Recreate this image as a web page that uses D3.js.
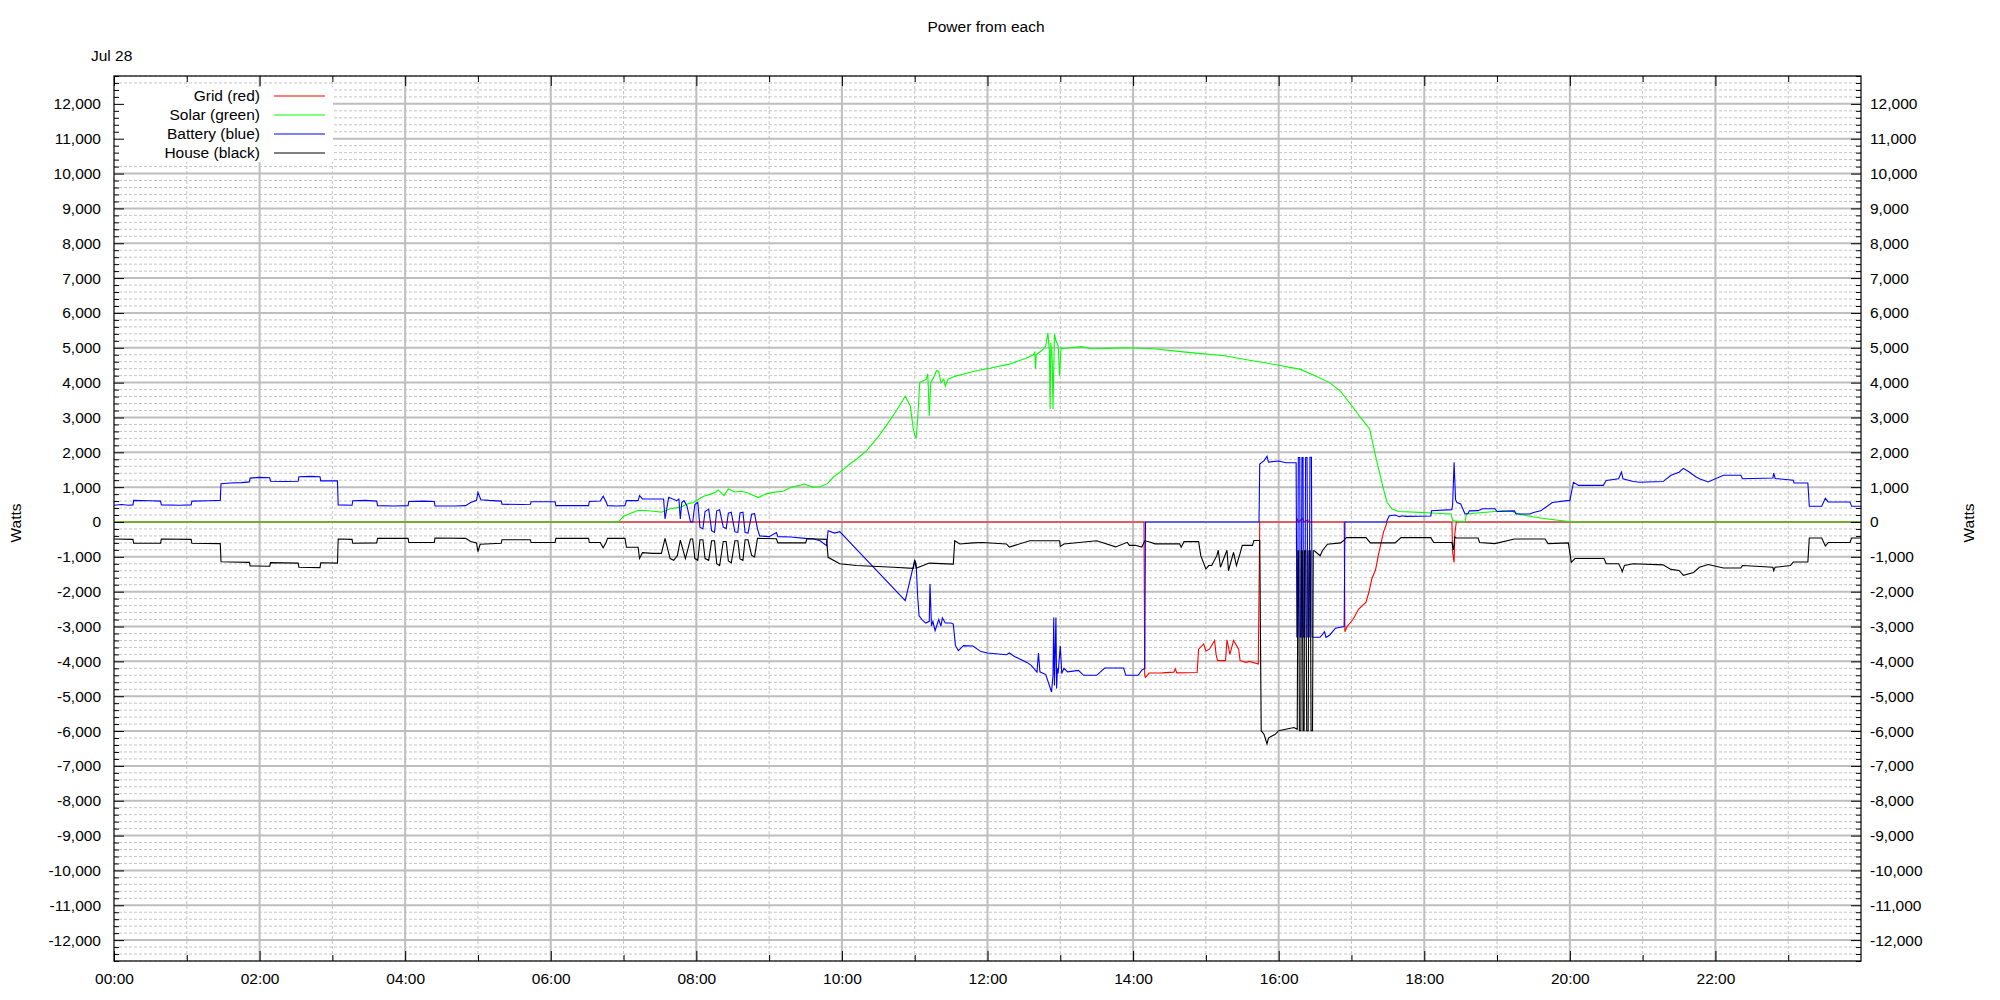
<!DOCTYPE html>
<html><head><meta charset="utf-8">
<script src="https://cdn.jsdelivr.net/npm/d3@7"></script>
<style>
body{margin:0;background:#fff}
svg{display:block}
text{font-family:"Liberation Sans",Arial,sans-serif;font-size:15.5px;fill:#000}
</style>
</head><body>
<svg id="chart" width="2000" height="1000"></svg>
<script>
// ---------- labels ----------
const chartTitle = "Power from each";
const dateLabel = "Jul 28";
const yAxisLabel = "Watts";
const seriesNames = ["Grid (red)", "Solar (green)", "Battery (blue)", "House (black)"];
const seriesColors = ["#ff0000", "#00ff00", "#0000ff", "#000000"];
const xMajorTicks = [0, 2, 4, 6, 8, 10, 12, 14, 16, 18, 20, 22];
const xMinorTicks = [1, 3, 5, 7, 9, 11, 13, 15, 17, 19, 21, 23];
const yMajorTicks = d3.range(-12000, 12001, 1000);

// ---------- data: [hour of day, watts] ----------
const gridPoints = [[0,0],[7.0,0],[8.9,0],[14.15,0],[14.16,-4410],[14.17,-4460],[14.22,-4335],[14.4,-4330],[14.56,-4310],[14.58,-4210],[14.6,-4330],[14.88,-4320],[14.9,-3650],[14.97,-3500],[15.0,-3700],[15.05,-3650],[15.12,-3400],[15.14,-3800],[15.16,-3980],[15.27,-3980],[15.29,-3380],[15.33,-3800],[15.38,-3400],[15.45,-3650],[15.47,-3980],[15.55,-4030],[15.6,-4000],[15.72,-4075],[15.74,0],[16.24,0],[16.26,80],[16.27,0],[16.33,100],[16.35,0],[16.40,60],[16.41,0],[16.90,0],[16.91,-3150],[16.94,-3000],[17.02,-2800],[17.1,-2500],[17.2,-2300],[17.24,-2010],[17.28,-1630],[17.33,-1380],[17.37,-950],[17.44,-290],[17.49,0],[18.38,0],[18.39,-870],[18.41,-1160],[18.42,-340],[18.44,0],[24,0]];

const solarPoints = [[0,0],[6.93,0],[7.0,163],[7.1,250],[7.2,335],[7.3,330],[7.45,300],[7.52,280],[7.64,380],[7.78,420],[7.89,527],[7.96,560],[8.1,737],[8.2,800],[8.26,852],[8.3,920],[8.38,756],[8.44,947],[8.53,860],[8.62,880],[8.71,830],[8.85,700],[8.95,800],[9.05,850],[9.19,880],[9.3,995],[9.42,1050],[9.48,1090],[9.6,1000],[9.7,1010],[9.8,1100],[9.88,1283],[10.0,1475],[10.1,1650],[10.2,1800],[10.34,2047],[10.5,2450],[10.61,2765],[10.75,3200],[10.87,3608],[10.94,3330],[10.98,2670],[11.0,2500],[11.02,2402],[11.04,2950],[11.07,4010],[11.12,4050],[11.16,4100],[11.18,4250],[11.2,3050],[11.22,4000],[11.26,4150],[11.3,4350],[11.33,4320],[11.36,4000],[11.4,4100],[11.42,3900],[11.46,4100],[11.55,4180],[11.66,4240],[11.85,4340],[12.03,4410],[12.3,4530],[12.53,4700],[12.63,4800],[12.65,4870],[12.66,4400],[12.67,4800],[12.76,4950],[12.8,5050],[12.83,5427],[12.85,4900],[12.86,3244],[12.87,5150],[12.89,4600],[12.9,3244],[12.92,5400],[12.94,5200],[12.97,5070],[12.99,4200],[13.01,5000],[13.04,4980],[13.29,5033],[13.43,4970],[13.77,4990],[13.88,5000],[14.29,4970],[14.56,4910],[14.79,4860],[15.26,4770],[15.5,4680],[16.0,4500],[16.3,4380],[16.5,4200],[16.7,4000],[16.85,3750],[17.0,3350],[17.14,2957],[17.25,2670],[17.28,2383],[17.34,1809],[17.39,1378],[17.44,943],[17.49,560],[17.56,370],[17.65,300],[17.94,277],[18.1,258],[18.37,230],[18.39,38],[18.43,29],[18.56,0],[18.58,230],[18.97,300],[19.08,320],[19.2,316],[19.3,225],[19.49,150],[19.62,105],[19.81,57],[20.05,0],[24,0]];

const batteryPoints = [[0,480],[0.1,500],[0.2,480],[0.26,490],[0.27,620],[0.5,610],[0.64,600],[0.65,490],[0.9,480],[1.06,490],[1.07,600],[1.3,610],[1.46,620],[1.47,1100],[1.6,1120],[1.75,1130],[1.86,1150],[1.87,1260],[2.0,1280],[2.14,1270],[2.15,1170],[2.35,1160],[2.53,1170],[2.54,1300],[2.7,1310],[2.83,1300],[2.84,1180],[3.07,1180],[3.08,490],[3.27,480],[3.28,610],[3.45,620],[3.61,600],[3.62,470],[3.85,460],[4.04,470],[4.05,590],[4.25,600],[4.4,590],[4.41,460],[4.7,460],[4.83,470],[4.9,560],[4.98,620],[5.0,850],[5.04,640],[5.15,620],[5.32,600],[5.33,510],[5.6,500],[5.72,510],[5.73,580],[6.06,580],[6.07,470],[6.52,470],[6.53,590],[6.68,600],[6.72,740],[6.76,580],[6.78,470],[6.9,460],[7.02,470],[7.04,612],[7.2,612],[7.22,755],[7.26,660],[7.5,660],[7.55,660],[7.57,86],[7.62,708],[7.73,612],[7.76,660],[7.78,86],[7.8,560],[7.83,612],[7.87,470],[7.92,0],[7.95,0],[7.98,500],[8.02,565],[8.05,-150],[8.09,-200],[8.12,300],[8.17,370],[8.21,-250],[8.25,-300],[8.28,320],[8.32,350],[8.37,-150],[8.41,-190],[8.44,250],[8.48,280],[8.53,-280],[8.57,-300],[8.60,260],[8.64,280],[8.67,-300],[8.71,-320],[8.76,220],[8.80,240],[8.84,-200],[8.87,-400],[9.0,-420],[9.1,-300],[9.12,-420],[9.3,-430],[9.5,-470],[9.6,-480],[9.7,-540],[9.79,-680],[9.81,-250],[9.9,-320],[9.97,-280],[10.87,-2260],[11.0,-1100],[11.02,-1200],[11.04,-2115],[11.06,-2690],[11.1,-2800],[11.15,-2900],[11.2,-2850],[11.21,-1780],[11.23,-2980],[11.25,-2850],[11.28,-3120],[11.33,-2800],[11.36,-2990],[11.38,-2750],[11.42,-2900],[11.5,-2900],[11.53,-2930],[11.56,-3550],[11.6,-3690],[11.67,-3550],[11.8,-3560],[11.91,-3720],[12.0,-3760],[12.26,-3810],[12.3,-3760],[12.37,-3860],[12.54,-4030],[12.6,-4115],[12.68,-4310],[12.7,-3760],[12.72,-4300],[12.8,-4380],[12.88,-4880],[12.9,-4400],[12.91,-2740],[12.92,-4690],[12.94,-2740],[12.95,-4780],[12.96,-4200],[12.97,-4350],[13.0,-3550],[13.02,-4350],[13.05,-4200],[13.1,-4300],[13.25,-4260],[13.32,-4400],[13.5,-4400],[13.61,-4190],[13.87,-4190],[13.9,-4400],[14.07,-4400],[14.12,-4250],[14.16,-4200],[14.17,0],[15.73,0],[15.74,1665],[15.8,1760],[15.84,1886],[15.86,1720],[16.0,1750],[16.1,1700],[16.22,1700],[16.24,1700],[16.25,-3300],[16.26,-3300],[16.27,1850],[16.29,1850],[16.295,-3300],[16.31,-3300],[16.32,1850],[16.335,1850],[16.34,-3300],[16.36,-3300],[16.37,1850],[16.39,1850],[16.40,-3300],[16.42,-3300],[16.43,1860],[16.45,1860],[16.46,-3300],[16.48,-3310],[16.57,-3310],[16.63,-3150],[16.65,-3310],[16.7,-3250],[16.78,-3050],[16.85,-3020],[16.90,-3000],[16.91,0],[17.48,0],[17.5,90],[17.52,180],[17.6,200],[17.66,150],[17.7,180],[17.75,160],[18.09,170],[18.1,325],[18.38,354],[18.39,500],[18.41,1713],[18.43,640],[18.45,560],[18.5,520],[18.56,230],[18.6,240],[18.62,320],[18.74,325],[18.8,380],[18.97,380],[19.0,300],[19.24,320],[19.26,230],[19.45,230],[19.5,270],[19.6,320],[19.76,560],[19.96,612],[20.0,612],[20.05,1140],[20.12,1050],[20.46,1050],[20.5,1190],[20.67,1240],[20.71,1435],[20.73,1240],[20.87,1160],[20.96,1140],[21.28,1160],[21.39,1340],[21.5,1430],[21.56,1540],[21.63,1450],[21.73,1300],[21.78,1240],[21.9,1150],[22.11,1340],[22.35,1340],[22.37,1240],[22.79,1260],[22.8,1400],[22.82,1250],[23.07,1200],[23.08,1120],[23.27,1120],[23.29,450],[23.46,450],[23.51,680],[23.55,575],[23.85,575],[23.87,450],[24,450]];

const housePoints = [[0,-490],[0.26,-500],[0.27,-612],[0.64,-610],[0.65,-490],[1.06,-500],[1.07,-612],[1.46,-620],[1.47,-1140],[1.6,-1150],[1.86,-1160],[1.87,-1263],[2.14,-1270],[2.15,-1167],[2.53,-1180],[2.54,-1300],[2.83,-1310],[2.84,-1170],[3.07,-1180],[3.08,-490],[3.27,-500],[3.28,-610],[3.61,-600],[3.62,-470],[4.04,-470],[4.05,-590],[4.4,-590],[4.41,-460],[4.83,-470],[4.9,-560],[4.98,-600],[5.0,-852],[5.03,-640],[5.32,-610],[5.33,-510],[5.72,-510],[5.73,-590],[6.06,-590],[6.07,-470],[6.52,-470],[6.53,-590],[6.68,-590],[6.72,-740],[6.76,-590],[6.78,-470],[7.02,-470],[7.04,-727],[7.2,-727],[7.22,-1048],[7.26,-880],[7.4,-900],[7.52,-900],[7.57,-470],[7.64,-1050],[7.69,-1100],[7.74,-960],[7.78,-520],[7.85,-1050],[7.92,-490],[7.95,-490],[7.98,-1050],[8.02,-1100],[8.05,-510],[8.09,-510],[8.12,-1050],[8.17,-1100],[8.21,-540],[8.25,-540],[8.28,-1200],[8.32,-1250],[8.37,-560],[8.41,-560],[8.44,-1120],[8.48,-1170],[8.53,-540],[8.57,-540],[8.60,-1060],[8.64,-1100],[8.67,-510],[8.71,-510],[8.76,-960],[8.80,-1000],[8.84,-470],[9.1,-480],[9.12,-600],[9.5,-600],[9.52,-480],[9.79,-500],[9.81,-1014],[9.97,-1200],[10.2,-1250],[10.71,-1300],[10.98,-1330],[11.0,-1100],[11.02,-1330],[11.2,-1180],[11.53,-1210],[11.55,-540],[11.62,-630],[11.8,-600],[11.93,-590],[12.26,-630],[12.3,-720],[12.58,-540],[12.99,-540],[13.0,-700],[13.05,-630],[13.5,-540],[13.76,-715],[13.92,-584],[13.95,-670],[14.03,-670],[14.12,-720],[14.16,-540],[14.24,-584],[14.3,-627],[14.64,-627],[14.66,-725],[14.7,-565],[14.9,-565],[14.93,-966],[15.0,-1350],[15.04,-1250],[15.08,-1250],[15.15,-966],[15.17,-810],[15.2,-1300],[15.29,-810],[15.31,-1400],[15.38,-870],[15.42,-1250],[15.47,-900],[15.5,-670],[15.64,-670],[15.66,-530],[15.74,-530],[15.76,-5990],[15.8,-6100],[15.84,-6370],[15.86,-6200],[15.9,-6150],[15.95,-6100],[16.0,-5990],[16.21,-5900],[16.255,-5950],[16.265,-825],[16.275,-825],[16.285,-5990],[16.305,-5990],[16.31,-825],[16.325,-825],[16.335,-5990],[16.35,-5990],[16.355,-825],[16.375,-825],[16.385,-5990],[16.405,-5990],[16.415,-825],[16.435,-825],[16.445,-5990],[16.465,-5990],[16.475,-825],[16.49,-825],[16.57,-970],[16.6,-825],[16.67,-640],[16.85,-600],[16.9,-520],[16.93,-450],[17.2,-450],[17.26,-600],[17.6,-600],[17.68,-450],[18.09,-450],[18.13,-590],[18.38,-590],[18.4,-800],[18.42,-430],[18.44,-460],[18.74,-460],[18.76,-590],[18.97,-620],[19.24,-490],[19.66,-490],[19.7,-620],[19.98,-600],[20.02,-1160],[20.07,-1050],[20.47,-1050],[20.5,-1200],[20.67,-1200],[20.71,-1360],[20.72,-1430],[20.75,-1250],[20.87,-1200],[21.28,-1230],[21.39,-1360],[21.5,-1390],[21.56,-1530],[21.7,-1450],[21.78,-1300],[21.9,-1220],[22.11,-1320],[22.35,-1320],[22.37,-1250],[22.79,-1300],[22.8,-1400],[22.82,-1300],[23.03,-1250],[23.07,-1150],[23.27,-1150],[23.29,-460],[23.46,-460],[23.51,-690],[23.55,-590],[23.85,-590],[23.87,-460],[24,-460]];

const allSeries = [gridPoints, solarPoints, batteryPoints, housePoints];

// ---------- layout ----------
const svg = d3.select("#chart");
const L = 114, R = 1861, T = 76, B = 961;
const x = d3.scaleLinear().domain([0, 24]).range([L, R]);
const y = d3.scaleLinear().domain([-12600, 12800]).range([B, T]);
const loc = d3.formatLocale({decimal: ".", thousands: ",", grouping: [3], currency: ["", ""], minus: "-"});
const fmtY = loc.format(",");
const fmtX = h => d3.format("02d")(h) + ":00";

const yMinorTicks = d3.range(-12600, 12801, 200).filter(v => v % 1000 !== 0);

// grid lines
const grid = svg.append("g");
grid.selectAll(".hmin").data(yMinorTicks).join("line")
  .attr("x1", L).attr("x2", R).attr("y1", d => y(d)).attr("y2", d => y(d))
  .attr("stroke", "#c4c4c4").attr("stroke-width", 1).attr("stroke-dasharray", "3,2");
grid.selectAll(".vmin").data(xMinorTicks).join("line")
  .attr("y1", T).attr("y2", B).attr("x1", d => x(d)).attr("x2", d => x(d))
  .attr("stroke", "#c4c4c4").attr("stroke-width", 1).attr("stroke-dasharray", "3,2");
grid.selectAll(".hmaj").data(yMajorTicks).join("line")
  .attr("x1", L).attr("x2", R).attr("y1", d => y(d)).attr("y2", d => y(d))
  .attr("stroke", "#bebebe").attr("stroke-width", 2);
grid.selectAll(".vmaj").data(xMajorTicks.filter(d => d > 0)).join("line")
  .attr("y1", T).attr("y2", B).attr("x1", d => x(d)).attr("x2", d => x(d))
  .attr("stroke", "#bebebe").attr("stroke-width", 2);

// legend background
svg.append("rect").attr("x", L + 1).attr("y", 87).attr("width", 333 - L - 1).attr("height", 75).attr("fill", "#fff");

// data lines
svg.append("clipPath").attr("id", "clip").append("rect")
  .attr("x", L).attr("y", T).attr("width", R - L).attr("height", B - T);
const line = d3.line().x(d => x(d[0])).y(d => y(d[1]));
const plot = svg.append("g").attr("clip-path", "url(#clip)");
allSeries.forEach((s, i) => {
  plot.append("path").datum(s).attr("d", line)
    .attr("fill", "none").attr("stroke", seriesColors[i]).attr("stroke-width", 1.1)
    .attr("stroke-linejoin", "miter");
});

// axes
function styleAxis(g) {
  g.selectAll("line").attr("stroke", "#000");
  g.selectAll("path").attr("stroke", "#000");
  g.selectAll("text").style("font-size", "15.5px").style("font-family", '"Liberation Sans", Arial, sans-serif');
}
svg.append("g").attr("transform", `translate(${L},0)`)
  .call(d3.axisLeft(y).tickValues(yMajorTicks).tickFormat(fmtY).tickSizeInner(-10).tickSizeOuter(0).tickPadding(13))
  .call(styleAxis).call(g => g.select(".domain").remove());
svg.append("g").attr("transform", `translate(${L},0)`)
  .call(d3.axisLeft(y).tickValues(yMinorTicks).tickFormat("").tickSizeInner(-5).tickSizeOuter(0))
  .call(styleAxis).call(g => g.select(".domain").remove());
svg.append("g").attr("transform", `translate(${R},0)`)
  .call(d3.axisRight(y).tickValues(yMajorTicks).tickFormat(fmtY).tickSizeInner(-10).tickSizeOuter(0).tickPadding(9))
  .call(styleAxis).call(g => g.select(".domain").remove());
svg.append("g").attr("transform", `translate(${R},0)`)
  .call(d3.axisRight(y).tickValues(yMinorTicks).tickFormat("").tickSizeInner(-5).tickSizeOuter(0))
  .call(styleAxis).call(g => g.select(".domain").remove());
svg.append("g").attr("transform", `translate(0,${B})`)
  .call(d3.axisBottom(x).tickValues(xMajorTicks).tickFormat(fmtX).tickSizeInner(-10).tickSizeOuter(0).tickPadding(12))
  .call(styleAxis).call(g => g.select(".domain").remove());
svg.append("g").attr("transform", `translate(0,${B})`)
  .call(d3.axisBottom(x).tickValues(xMinorTicks).tickFormat("").tickSizeInner(-6).tickSizeOuter(0))
  .call(styleAxis).call(g => g.select(".domain").remove());
svg.append("g").attr("transform", `translate(0,${T})`)
  .call(d3.axisTop(x).tickValues(xMajorTicks).tickFormat("").tickSizeInner(-10).tickSizeOuter(0))
  .call(styleAxis).call(g => g.select(".domain").remove());
svg.append("g").attr("transform", `translate(0,${T})`)
  .call(d3.axisTop(x).tickValues(xMinorTicks).tickFormat("").tickSizeInner(-6).tickSizeOuter(0))
  .call(styleAxis).call(g => g.select(".domain").remove());

// frame
svg.append("rect").attr("x", L).attr("y", T).attr("width", R - L).attr("height", B - T)
  .attr("fill", "none").attr("stroke", "#000").attr("stroke-width", 1.2);

// titles
svg.append("text").attr("x", 986).attr("y", 32).attr("text-anchor", "middle").text(chartTitle);
svg.append("text").attr("x", 91).attr("y", 61).text(dateLabel);
svg.append("text").attr("transform", "translate(15.5,523) rotate(-90)").attr("text-anchor", "middle").attr("dy", "0.35em").text(yAxisLabel);
svg.append("text").attr("transform", "translate(1969,523) rotate(-90)").attr("text-anchor", "middle").attr("dy", "0.35em").text(yAxisLabel);

// legend
const legendY = [96, 115, 134, 153];
const leg = svg.append("g");
seriesNames.forEach((n, i) => {
  leg.append("text").attr("x", 260).attr("y", legendY[i]).attr("dy", "0.35em").attr("text-anchor", "end").text(n);
  leg.append("line").attr("x1", 274).attr("x2", 325).attr("y1", legendY[i]).attr("y2", legendY[i])
    .attr("stroke", seriesColors[i]).attr("stroke-width", 1.1);
});
</script>
</body></html>
